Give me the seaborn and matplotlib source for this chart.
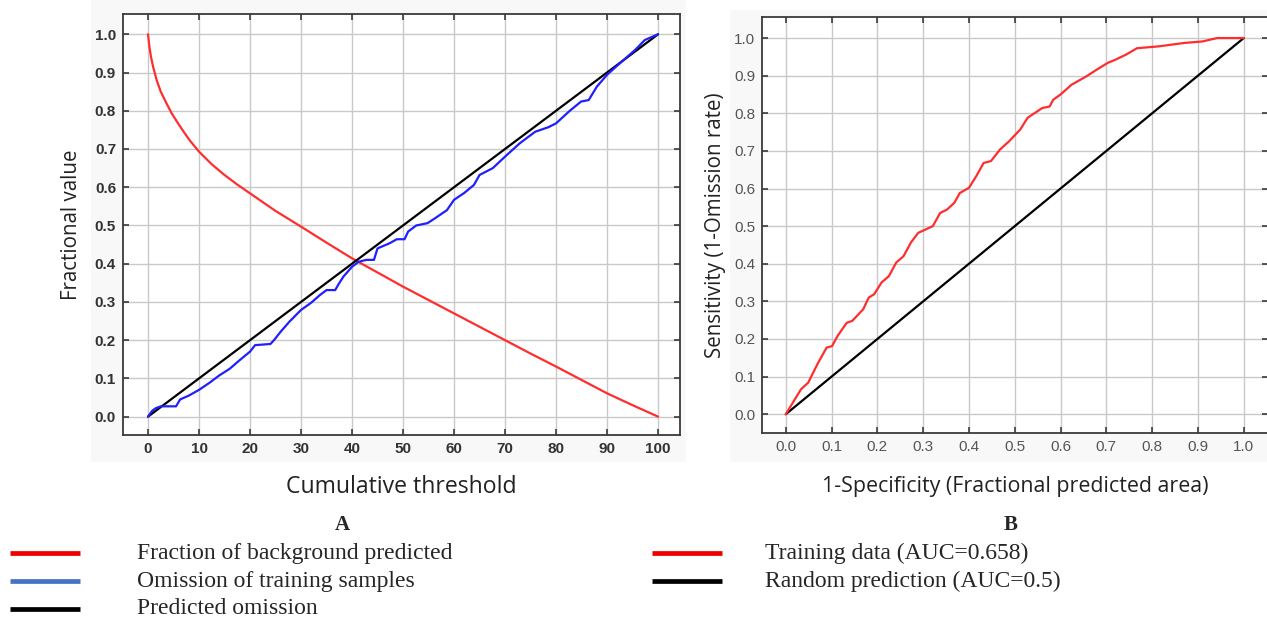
import numpy as np
import matplotlib
matplotlib.use("Agg")
import matplotlib.pyplot as plt
from matplotlib.patches import Rectangle
from matplotlib.lines import Line2D
import seaborn as sns

# --- panel A: fraction of background predicted (red)
bg_x = [0, 0.3, 0.6, 1.0, 1.7, 2.5, 3.6, 4.7, 5.9, 7.0, 8.1, 10, 12.5, 15, 17.5, 20, 25, 30, 35, 40,
        45, 50, 55, 60, 65, 70, 75, 80, 85, 90, 95, 100]
bg_y = [1.0, 0.965, 0.94, 0.915, 0.88, 0.85, 0.82, 0.792, 0.767, 0.745, 0.724, 0.693, 0.66, 0.632, 0.607,
        0.584, 0.538, 0.497, 0.455, 0.414, 0.377, 0.340, 0.305, 0.270, 0.235, 0.200, 0.165, 0.131,
        0.096, 0.061, 0.030, 0.0]

# panel A: omission of training samples (blue)
om_x = [0, 0.8, 1.5, 2.5, 5.5, 6.3, 8.0, 10, 12, 14, 16, 18, 20, 21, 24, 24.7, 26, 27.7, 30, 32,
        33.7, 35, 36.7, 37.3, 38.3, 40, 41.3, 42.8, 44.3, 45, 47.3, 48.8, 50.3, 51, 52.6, 54.8,
        56.3, 58.6, 60, 62, 63.9, 65, 67.6, 70, 72.9, 75.9, 78.5, 80, 82.7, 84.9, 86.4, 88,
        90, 92.5, 95.5, 97.4, 100]
om_y = [0, 0.015, 0.022, 0.027, 0.027, 0.045, 0.055, 0.07, 0.088, 0.108, 0.125, 0.148, 0.17, 0.187,
        0.19, 0.20, 0.222, 0.248, 0.279, 0.298, 0.318, 0.331, 0.331, 0.345, 0.366, 0.392, 0.405,
        0.41, 0.41, 0.44, 0.453, 0.464, 0.464, 0.484, 0.50, 0.506, 0.519, 0.54, 0.567, 0.585,
        0.606, 0.632, 0.65, 0.68, 0.715, 0.745, 0.757, 0.767, 0.80, 0.824, 0.828, 0.863,
        0.894, 0.924, 0.959, 0.985, 1.0]

pred_x = [0, 100]
pred_y = [0, 1]

# --- panel B: ROC
roc_fpr = [0, 0.033, 0.049, 0.069, 0.089, 0.101, 0.113, 0.133, 0.145, 0.169, 0.181, 0.193, 0.209,
           0.225, 0.241, 0.257, 0.273, 0.289, 0.305, 0.321, 0.337, 0.352, 0.368, 0.38, 0.40,
           0.416, 0.432, 0.448, 0.468, 0.488, 0.512, 0.528, 0.544, 0.56, 0.576, 0.584, 0.60,
           0.624, 0.656, 0.679, 0.703, 0.719, 0.743, 0.767, 0.815, 0.87, 0.91, 0.942, 1.0]
roc_tpr = [0, 0.066, 0.084, 0.133, 0.177, 0.181, 0.208, 0.243, 0.248, 0.279, 0.31, 0.319, 0.35,
           0.367, 0.403, 0.42, 0.456, 0.482, 0.491, 0.50, 0.535, 0.544, 0.562, 0.588, 0.602,
           0.633, 0.668, 0.673, 0.704, 0.726, 0.757, 0.788, 0.801, 0.814, 0.818, 0.836, 0.85,
           0.876, 0.898, 0.916, 0.934, 0.942, 0.956, 0.973, 0.978, 0.987, 0.991, 1.0, 1.0]
rand_x = [0, 1]
rand_y = [0, 1]

legend_a = ["Fraction of background predicted", "Omission of training samples", "Predicted omission"]
legend_b = ["Training data (AUC=0.658)", "Random prediction (AUC=0.5)"]

sns.set_style("white")
plt.rcParams['font.family'] = ['Open Sans', 'DejaVu Sans']

W, H = 1267, 617
fig = plt.figure(figsize=(W / 100, H / 100), dpi=100)

# light screenshot backgrounds, behind the axes
for x0, y0, w, h in [(91, 0, 595, 462), (730, 10, 540, 452)]:
    fig.add_artist(Rectangle((x0 / W, 1 - (y0 + h) / H), w / W, h / H, transform=fig.transFigure,
                             facecolor="#f8f8f8", edgecolor="none", zorder=-10))


def px_axes(x0, y0, x1, y1):
    return fig.add_axes([x0 / W, 1 - y1 / H, (x1 - x0) / W, (y1 - y0) / H])


def style(ax, tick_color, weight):
    ax.set_facecolor("white")
    ax.grid(True, color="#c9c9c9", linewidth=1.0)
    ax.set_axisbelow(True)
    for s in ax.spines.values():
        s.set_color("#3a3a3a")
        s.set_linewidth(1.3)
    ax.tick_params(direction="in", length=4, width=1.2, color="#3a3a3a", top=True, left=True,
                   bottom=True, right=True, labelsize=11, labelcolor=tick_color, pad=5)
    for lab in ax.get_xticklabels() + ax.get_yticklabels():
        lab.set_fontweight(weight)
        lab.set_family(['Liberation Sans', 'DejaVu Sans'])


# panel A
axA = px_axes(123, 14, 680, 435)
sns.lineplot(x=bg_x, y=bg_y, ax=axA, color="#ff2d2d", linewidth=1.6, estimator=None)
sns.lineplot(x=pred_x, y=pred_y, ax=axA, color="black", linewidth=1.6, estimator=None)
sns.lineplot(x=om_x, y=om_y, ax=axA, color="#1f1fff", linewidth=1.6, estimator=None)
axA.set_xlim(-4.9, 104.3)
axA.set_ylim(-0.048, 1.053)
axA.set_xticks(np.arange(0, 101, 10))
axA.set_yticks(np.arange(0, 1.01, 0.1))
axA.set_yticklabels([f"{v:.1f}" for v in np.arange(0, 1.01, 0.1)])
style(axA, "#333333", "bold")
axA.set_xlabel("Cumulative threshold", fontsize=16.6, labelpad=14, color="#222222")
axA.set_ylabel("Fractional value", fontsize=14.8, labelpad=9, color="#222222")

# panel B
axB = px_axes(762, 17, 1268, 433)
sns.lineplot(x=rand_x, y=rand_y, ax=axB, color="black", linewidth=1.6, estimator=None)
sns.lineplot(x=roc_fpr, y=roc_tpr, ax=axB, color="#ff2d2d", linewidth=1.6, estimator=None)
axB.set_xlim(-0.052, 1.053)
axB.set_ylim(-0.05, 1.056)
axB.set_xticks(np.arange(0, 1.01, 0.1))
axB.set_yticks(np.arange(0, 1.01, 0.1))
axB.set_xticklabels([f"{v:.1f}" for v in np.arange(0, 1.01, 0.1)])
axB.set_yticklabels([f"{v:.1f}" for v in np.arange(0, 1.01, 0.1)])
style(axB, "#555555", "normal")
axB.set_xlabel("1-Specificity (Fractional predicted area)", fontsize=15.4, labelpad=16, color="#222222")
axB.set_ylabel("Sensitivity (1-Omission rate)", fontsize=14.8, labelpad=6, color="#222222")

# captions and legend below the panels
serif = ['Liberation Serif', 'DejaVu Serif']
fig.text(342 / W, 1 - 525 / H, "A", family=serif, fontsize=15, fontweight="bold", ha="center", va="center")
fig.text(1011 / W, 1 - 525 / H, "B", family=serif, fontsize=15, fontweight="bold", ha="center", va="center")

cols_a = ["#ee0000", "#4472c4", "#000000"]
for i, (lab, c) in enumerate(zip(legend_a, cols_a)):
    yy = 1 - (553 + 28 * i) / H
    fig.add_artist(Line2D([10 / W, 80 / W], [yy, yy], color=c, linewidth=3.4,
                          solid_capstyle="butt", transform=fig.transFigure))
    fig.text(137 / W, yy, lab, family=serif, fontsize=17, ha="left", va="center")

cols_b = ["#ee0000", "#000000"]
for i, (lab, c) in enumerate(zip(legend_b, cols_b)):
    yy = 1 - (553 + 28 * i) / H
    fig.add_artist(Line2D([652 / W, 722 / W], [yy, yy], color=c, linewidth=3.4,
                          solid_capstyle="butt", transform=fig.transFigure))
    fig.text(765 / W, yy, lab, family=serif, fontsize=17, ha="left", va="center")

fig.savefig("out.png", dpi=100, facecolor="white")
